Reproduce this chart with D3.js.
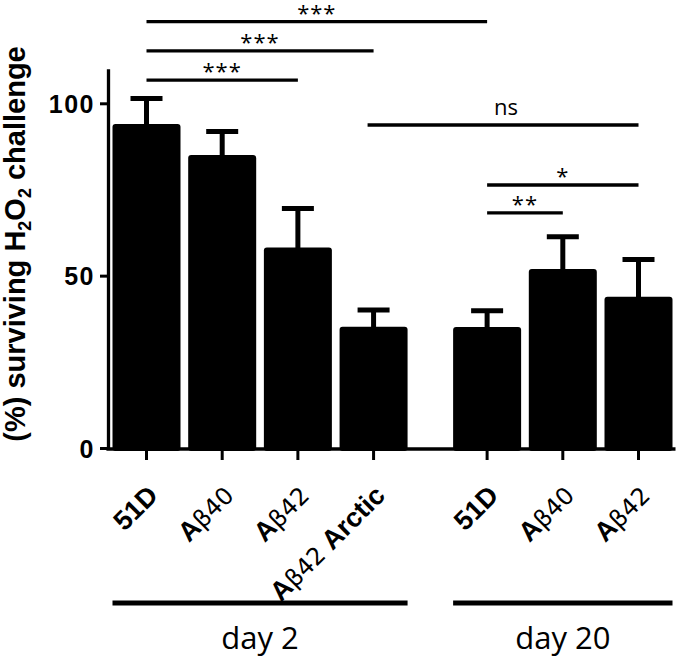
<!DOCTYPE html>
<html>
<head>
<meta charset="utf-8">
<script src="https://cdn.jsdelivr.net/npm/d3@7"></script>
<style>
  body { margin: 0; background: #fff; }
  .boldtxt { font-family: "Liberation Sans", Arial, sans-serif; font-weight: bold; }
  .thin { font-family: "Open Sans", sans-serif; }
</style>
</head>
<body>
<div id="chart"></div>
<script>
// values
var strains = ["51D", "Aβ40", "Aβ42", "Aβ42 Arctic", "51D", "Aβ40", "Aβ42"];
var dayOf = [0, 0, 0, 0, 1, 1, 1];
var slots = [0, 1, 2, 3, 4.5, 5.5, 6.5];
var means = [94.0, 85.0, 58.2, 35.2, 35.1, 51.9, 43.9];
var sems = [7.4, 6.8, 11.3, 4.8, 4.7, 9.4, 10.8];
var days = ["day 2", "day 20"];
var yTicks = [0, 50, 100];

// significance brackets
var cmpFrom = [0, 0, 0, 3, 4, 4];
var cmpTo = [4, 3, 2, 6, 6, 5];
var cmpLabel = ["***", "***", "***", "ns", "*", "**"];
var cmpLevel = [123.7, 115.2, 106.7, 93.7, 76.3, 68.2];

var svgWidth = 680;
var svgHeight = 660;

var svg = d3.select("#chart")
  .append("svg")
  .attr("width", svgWidth)
  .attr("height", svgHeight);

var y = d3.scaleLinear()
  .domain([0, 110])
  .range([448, 448 - 110 * 3.447]);

var x = d3.scaleLinear()
  .domain([0, 6.5])
  .range([146.5, 638.5]);

var barWidth = 68;
var axisX = 108;

// bars
svg.selectAll("rect.bar").data(means).enter()
  .append("rect")
  .attr("class", "bar")
  .attr("x", (d, i) => x(slots[i]) - barWidth / 2)
  .attr("y", d => y(d))
  .attr("width", barWidth)
  .attr("height", d => y(0) - y(d) + 3)
  .attr("rx", 3)
  .style("fill", "#000");

// error bars (upper only)
svg.selectAll("line.err").data(means).enter()
  .append("line")
  .attr("x1", (d, i) => x(slots[i]))
  .attr("x2", (d, i) => x(slots[i]))
  .attr("y1", d => y(d) + 2)
  .attr("y2", (d, i) => y(d + sems[i]))
  .attr("stroke", "#000")
  .attr("stroke-width", 5);

svg.selectAll("line.cap").data(means).enter()
  .append("line")
  .attr("x1", (d, i) => x(slots[i]) - 16)
  .attr("x2", (d, i) => x(slots[i]) + 16)
  .attr("y1", (d, i) => y(d + sems[i]))
  .attr("y2", (d, i) => y(d + sems[i]))
  .attr("stroke", "#000")
  .attr("stroke-width", 5);

// y axis
var leftAxis = d3.axisLeft(y).tickValues(yTicks).tickSize(8).tickSizeOuter(0).tickPadding(5);
var yg = svg.append("g")
  .attr("transform", `translate(${axisX}, 0)`)
  .call(leftAxis);
yg.select(".domain").attr("stroke-width", 3.3);
yg.selectAll(".tick line").attr("stroke-width", 3);
yg.selectAll(".tick text")
  .attr("class", "boldtxt")
  .attr("font-size", 25)
  .attr("letter-spacing", 1.5)
  .attr("dy", "0.36em");

// x axis line + ticks
svg.append("line")
  .attr("x1", axisX - 1.6)
  .attr("x2", x(6.5) + barWidth / 2 + 3)
  .attr("y1", y(0) + 1)
  .attr("y2", y(0) + 1)
  .attr("stroke", "#000")
  .attr("stroke-width", 3.3);

svg.selectAll("line.xtick").data(slots).enter()
  .append("line")
  .attr("x1", d => x(d))
  .attr("x2", d => x(d))
  .attr("y1", y(0))
  .attr("y2", y(0) + 12)
  .attr("stroke", "#000")
  .attr("stroke-width", 3);

// x tick labels, rotated
var xl = svg.selectAll("text.xlab").data(strains).enter()
  .append("text")
  .attr("class", "boldtxt")
  .attr("font-size", 27)
  .attr("text-anchor", "end")
  .attr("transform", (d, i) => `translate(${x(slots[i]) + 13}, 497) rotate(-45)`);

xl.each(function(d) {
  var t = d3.select(this);
  d.split(/(β\d+)/).filter(s => s.length).forEach(function(s) {
    var sp = t.append("tspan").text(s);
    if (s[0] === "β") sp.style("font-weight", "normal").style("font-family", "'DejaVu Sans', sans-serif").attr("font-size", 24);
  });
});

// significance lines
svg.selectAll("line.sig").data(cmpLabel).enter()
  .append("line")
  .attr("x1", (d, i) => x(slots[cmpFrom[i]]) - (d === "ns" ? 6 : 0))
  .attr("x2", (d, i) => x(slots[cmpTo[i]]))
  .attr("y1", (d, i) => y(cmpLevel[i]))
  .attr("y2", (d, i) => y(cmpLevel[i]))
  .attr("stroke", "#000")
  .attr("stroke-width", 3.3);

svg.selectAll("text.sig").data(cmpLabel).enter()
  .append("text")
  .attr("class", "thin")
  .attr("font-size", 22)
  .attr("text-anchor", "middle")
  .attr("x", (d, i) => (x(slots[cmpFrom[i]]) + x(slots[cmpTo[i]])) / 2)
  .attr("y", (d, i) => y(cmpLevel[i]) - (d === "ns" ? 10 : 1))
  .attr("letter-spacing", d => d === "ns" ? 0 : 1)
  .text(d => d);

// day group lines
days.forEach(function(day, k) {
  var idx = d3.range(strains.length).filter(i => dayOf[i] === k);
  var left = x(slots[idx[0]]) - barWidth / 2;
  var right = x(slots[idx[idx.length - 1]]) + barWidth / 2;
  svg.append("line")
    .attr("x1", left)
    .attr("x2", right)
    .attr("y1", 603)
    .attr("y2", 603)
    .attr("stroke", "#000")
    .attr("stroke-width", 5);
  svg.append("text")
    .attr("class", "thin")
    .attr("font-size", 31)
    .attr("text-anchor", "middle")
    .attr("x", (left + right) / 2)
    .attr("y", 649)
    .text(day);
});

// y axis title
var yt = svg.append("text")
  .attr("class", "boldtxt")
  .attr("font-size", 29)
  .attr("text-anchor", "middle")
  .attr("transform", "translate(25, 244) rotate(-90)");
yt.append("tspan").text("(%) surviving H");
yt.append("tspan").attr("font-size", 18).attr("dy", 6).text("2");
yt.append("tspan").attr("dy", -6).text("O");
yt.append("tspan").attr("font-size", 18).attr("dy", 6).text("2");
yt.append("tspan").attr("dy", -6).text(" challenge");
</script>
</body>
</html>
